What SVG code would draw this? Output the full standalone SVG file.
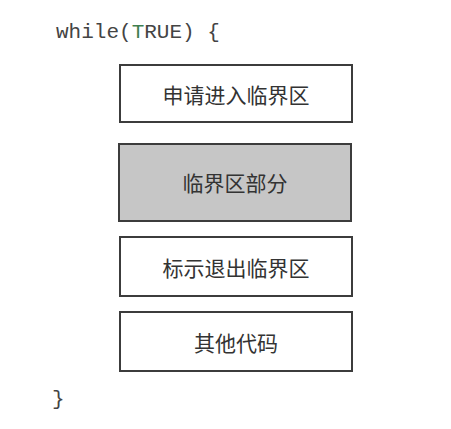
<svg xmlns="http://www.w3.org/2000/svg" width="451" height="429" viewBox="0 0 451 429">
<style>
.box{fill:#fff;stroke:#3c3c3c;stroke-width:2}
.shade{fill:#c6c6c6}
.lbl{font-family:"Noto Sans CJK SC","Noto Sans",sans-serif;font-size:21px;fill:#333;text-anchor:middle;dominant-baseline:central}
.code{font-family:"Liberation Mono","DejaVu Sans Mono",monospace;font-size:21px;fill:#444}
</style>
<rect width="451" height="429" fill="#fff"/>
<text class="code" x="56" y="38">while(<tspan fill="#3f7f50">T</tspan>RUE) {</text>
<g id="n1"><rect class="box" x="120" y="65" width="232" height="57"/><text class="lbl" x="236" y="94">申请进入临界区</text></g>
<g id="n2"><rect class="box shade" x="119" y="144" width="232" height="77"/><text class="lbl" x="235" y="182">临界区部分</text></g>
<g id="n3"><rect class="box" x="120" y="237" width="232" height="59"/><text class="lbl" x="236" y="267">标示退出临界区</text></g>
<g id="n4"><rect class="box" x="120" y="312" width="232" height="59"/><text class="lbl" x="236" y="342">其他代码</text></g>
<g id="connectors"></g>
<text class="code" x="52" y="405">}</text>
</svg>
